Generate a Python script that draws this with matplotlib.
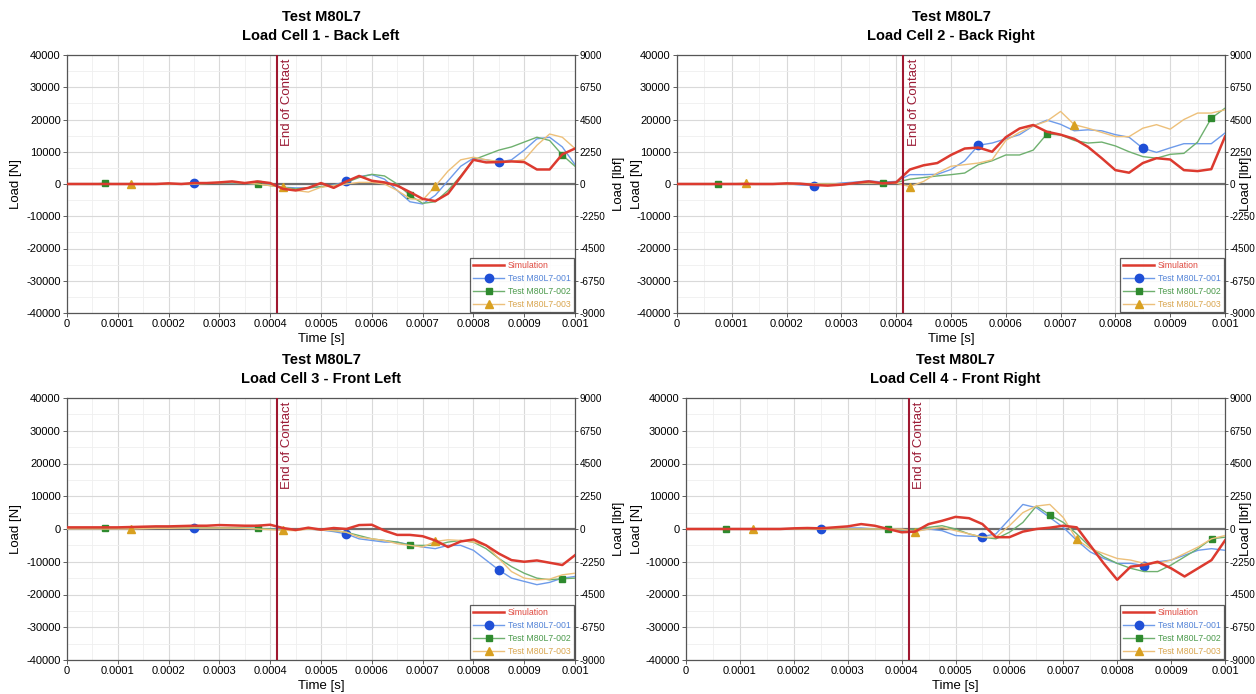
import numpy as np
import matplotlib
matplotlib.use("Agg")
import matplotlib.pyplot as plt
from matplotlib.ticker import MultipleLocator, FixedLocator

plt.rcParams['font.family'] = ['Liberation Sans', 'DejaVu Sans']
plt.rcParams['axes.unicode_minus'] = False

# ---- data (time in s, loads in kN) ----
time_s = np.linspace(0, 0.001, 41)
end_of_contact = 0.000413

titles = ["Load Cell 1 - Back Left", "Load Cell 2 - Back Right",
          "Load Cell 3 - Front Left", "Load Cell 4 - Front Right"]
series_names = ["Simulation", "Test M80L7-001", "Test M80L7-002", "Test M80L7-003"]

sim1 = [0,0,0,0,0,0,0,0,0.2,0,0.3,0.3,0.5,0.8,0.3,0.8,0.3,-1.5,-2,-1.2,0.3,-1.2,0.8,2.5,1,0.5,-0.5,-2.5,-4.6,-5.3,-3,2.2,7.5,6.7,6.8,7,6.8,4.5,4.5,9.2,11]
t001_1 = [0,0,0,0,0,0,0,0,0,0,0.2,0.2,0.3,0.3,0.2,0,-0.3,-1,-1.2,-1.2,-0.9,-0.3,0.8,2.3,2.9,1.5,-2,-5.5,-6.2,-3.5,1,5.5,8,7.5,6.8,7.5,10.5,14,14.5,11.5,6]
t002_1 = [0,0,0,0.2,0,0,0,0,0,0,0,0.1,0.3,0.4,0.2,0,-0.5,-1,-1.5,-1.2,-0.8,-0.5,0.5,2,3,2.5,0,-3.5,-6,-5.5,-2,2.5,7.5,9,10.5,11.5,13,14.5,13.5,9,5.5]
t003_1 = [0,0,0,0,0,0,0,0,0,0,0,0.2,0.4,0.5,0.3,0,-0.5,-1,-2,-2.5,-1,-0.5,0,0.5,0.5,0,-2,-4.5,-5,-0.7,4,7.5,8.3,7.5,7,7,7.5,12,15.5,14.5,11]

sim2 = [0,0,0,0,0,0,0,0,0.2,0.1,-0.3,-0.5,-0.2,0.3,0.8,0.2,0.5,4.5,5.8,6.5,9,11,11.3,10,14.5,17.2,18.3,16.2,15.3,14,11.5,8,4.3,3.5,6.5,8,7.6,4.3,4,4.6,14.7]
t001_2 = [0,0,0,0,0,0,0,0,0.1,-0.3,-0.5,-0.2,0.3,0.6,1.0,0.6,0.8,2.9,2.9,3.0,4.5,7.2,12,12.7,14,15.3,18,19.8,18.5,16.5,16.8,16.5,15.3,14.5,11.1,9.8,11.2,12.5,12.5,12.5,15.8]
t002_2 = [0,0,0,0,0,0,0,0,0,0,0,0,-0.3,0.2,0.5,0.2,0.5,1.5,2.0,2.5,2.9,3.4,6,7.2,9,9,10.5,15.5,15.2,13.5,12.7,13,11.8,10,8.5,8,9.2,9.5,13,20.4,23.5]
t003_2 = [0,0,0,0,0,0.3,0,0,0,0,0,0,0,0.2,0.3,0.1,0.3,-0.8,0.8,3.4,5.5,6,6.5,7.5,13.5,16,18,19.5,22.5,18.4,17.3,16,14.7,14.7,17.3,18.4,17,20,22,22,23]

sim3 = [0.5,0.5,0.5,0.5,0.5,0.6,0.7,0.8,0.8,0.9,1.0,1.0,1.2,1.1,1.0,1.0,1.3,0.3,-0.3,0.4,-0.2,0.3,0,1.2,1.3,-0.5,-1.8,-1.8,-2.2,-3.5,-5.5,-3.8,-3.2,-5,-7.5,-9.5,-10,-9.6,-10.3,-11,-8]
t001_3 = [0,0,0,0,0,0.1,0.2,0.2,0.3,0.3,0.3,0.3,0.3,0.3,0.2,0.2,0,0,-0.2,0,-0.3,-0.8,-1.5,-3,-3.5,-4,-4,-4.8,-5.5,-6,-5,-5,-6.5,-9.5,-12.5,-15,-16,-17,-16.3,-15,-14.5]
t002_3 = [0.2,0.2,0.2,0.2,0.2,0.2,0.3,0.3,0.3,0.3,0.4,0.4,0.4,0.4,0.3,0.2,0,-0.3,-0.2,0,-0.2,-0.5,-1,-2,-3,-3.5,-4,-5,-5,-5,-4,-3.5,-4,-6,-9,-11.5,-13.5,-15,-15.5,-15.2,-15]
t003_3 = [0,0,0,0,0,0,0.1,0.2,0.2,0.3,0.3,0.3,0.3,0.3,0.2,0,-0.2,-0.4,-0.5,0,-0.3,-0.5,-1,-2.5,-3,-3.5,-4.5,-5,-5.5,-3.8,-3.3,-3.5,-4,-5,-9,-13,-15,-15.5,-15.3,-14,-13.5]

sim4 = [0,0,0,0,0,0,0,0,0.2,0.3,0.2,0.5,0.8,1.5,1.0,0,-1,-0.8,1.5,2.5,3.7,3.3,1.5,-2.5,-2.5,-0.8,0,0.4,1.0,0.5,-5,-10.5,-15.5,-11.5,-11,-10,-12,-14.5,-12,-9.5,-3.5]
t001_4 = [0,0,0,0,0,0,0,0,0,0,0,0,0.3,0.3,0,0,-0.3,-0.5,0,-0.5,-2,-2.2,-2.3,-1.5,3,7.5,6.5,3.5,0.5,-3.5,-7,-9,-10.5,-10.5,-11.2,-10,-9.5,-8,-6.5,-6,-6.5]
t002_4 = [0,0,0,0,0,0,0,0,0,0,0,0,0,0,0,0,-0.3,0,0.5,1,0,-1.5,-2.5,-3,-1,2,7,4.3,2,-1.5,-5.5,-8.5,-10.5,-12,-13,-13,-11,-8.5,-6,-3,-2.5]
t003_4 = [0,0,0,0,0,0,0,0,0,0,0,0,0,0,0,0,0,-0.8,0,0.5,-0.5,-1.5,-2.5,-2.5,1,5,7,7.5,3.5,-3.2,-6,-7.5,-9,-9.5,-10.5,-10.5,-9.5,-7.5,-5.5,-3,-2]

panels = [(sim1, t001_1, t002_1, t003_1), (sim2, t001_2, t002_2, t003_2),
          (sim3, t001_3, t002_3, t003_3), (sim4, t001_4, t002_4, t003_4)]

x_ticks = [0, 0.0001, 0.0002, 0.0003, 0.0004, 0.0005, 0.0006, 0.0007, 0.0008, 0.0009, 0.001]
x_ticklabels = ["0", "0.0001", "0.0002", "0.0003", "0.0004", "0.0005", "0.0006", "0.0007", "0.0008", "0.0009", "0.001"]
y_ticks = [-40000, -30000, -20000, -10000, 0, 10000, 20000, 30000, 40000]
y2_ticks = [-9000, -6750, -4500, -2250, 0, 2250, 4500, 6750, 9000]

# ---- styles ----
line_colors = ['#DC3A2F', '#6E9BEA', '#6FB06F', '#EDC07A']
marker_colors = [None, '#1F4FD6', '#2E8A2E', '#D8A020']
markers = [None, 'o', 's', '^']
mark_start = [None, 10, 3, 5]
text_colors = ['#E04A40', '#5585D8', '#4C9A4C', '#D9A650']

W, H = 1256, 694
fig = plt.figure(figsize=(W / 100, H / 100), dpi=100)

# axes boxes in pixels: left, right, top, bottom
boxes = [(67, 575, 55, 313), (677, 1225, 55, 313), (67, 575, 398, 660), (686, 1225, 398, 660)]
left_label_x = [16, 637, 16, 637]
right_label_x = [619, 1246, 619, 1246]

for i, (l, r, t, b) in enumerate(boxes):
    ax = fig.add_axes([l / W, (H - b) / H, (r - l) / W, (b - t) / H])
    data = panels[i]
    for k in [1, 2, 3, 0]:
        vals = np.array(data[k]) * 1000.0
        if k == 0:
            ax.plot(time_s, vals, color=line_colors[0], lw=1.8, zorder=4, label=series_names[0])
        else:
            ax.plot(time_s, vals, color=line_colors[k], lw=1.0, zorder=3,
                    marker=markers[k], markevery=(mark_start[k], 12),
                    markersize=6 if k != 2 else 5, markerfacecolor=marker_colors[k],
                    markeredgecolor=marker_colors[k], label=series_names[k])
    ax.axhline(0, color='#6E6E6E', lw=1.6, zorder=2)
    ax.axvline(end_of_contact, color='#A01830', lw=1.5, zorder=5)
    ax.text(end_of_contact + 0.000008, 39000, "End of Contact", rotation=90, va='top', ha='left',
            color='#9B1B35', fontsize=9.5, zorder=6)

    ax.set_xlim(0, 0.001)
    ax.set_ylim(-40000, 40000)
    ax.xaxis.set_major_locator(FixedLocator(x_ticks))
    ax.set_xticklabels(x_ticklabels)
    ax.xaxis.set_minor_locator(MultipleLocator(0.00005))
    ax.yaxis.set_major_locator(FixedLocator(y_ticks))
    ax.yaxis.set_minor_locator(MultipleLocator(5000))
    ax.grid(which='major', color='#D9D9D9', lw=0.8, zorder=0)
    ax.grid(which='minor', color='#EFEFEF', lw=0.6, zorder=0)
    ax.set_axisbelow(True)
    ax.tick_params(which='major', labelsize=8, length=3, width=0.6, pad=1.5, colors='#444444', labelcolor='black')
    ax.tick_params(which='minor', length=0)
    for s in ax.spines.values():
        s.set_color('#555555')
        s.set_linewidth(0.9)

    ax.set_xlabel("Time [s]", fontsize=9.5, labelpad=3)
    ax.set_ylabel("Load [N]", fontsize=9.5)
    ax.yaxis.set_label_coords((left_label_x[i] - l) / (r - l), 0.5)
    ax.yaxis.label.set_va('center')
    ax.yaxis.label.set_ha('center')

    ax2 = ax.twinx()
    ax2.set_ylim(-9000, 9000)
    ax2.yaxis.set_major_locator(FixedLocator(y2_ticks))
    ax2.tick_params(labelsize=7.2, length=2.5, width=0.6, pad=1, colors='#444444', labelcolor='black')
    ax2.set_ylabel("Load [lbf]", fontsize=9.5, rotation=90)
    ax2.yaxis.set_label_coords((right_label_x[i] - l) / (r - l), 0.5)
    ax2.yaxis.label.set_va('center')
    ax2.yaxis.label.set_ha('center')
    for s in ax2.spines.values():
        s.set_visible(False)

    ax.set_title("Test M80L7\n" + titles[i], fontsize=10.5, fontweight='bold', pad=11, linespacing=1.45)

    h, lab = ax.get_legend_handles_labels()
    order = [lab.index(n) for n in series_names]
    leg = ax.legend([h[j] for j in order], [lab[j] for j in order], loc='lower right',
                    fontsize=6.3, frameon=True, fancybox=False, edgecolor='#333333',
                    borderaxespad=0.15, handlelength=3.6, labelspacing=0.45,
                    borderpad=0.35, handletextpad=0.4, numpoints=1)
    leg.get_frame().set_linewidth(0.9)
    leg.set_zorder(10)
    for txt, c in zip(leg.get_texts(), text_colors):
        txt.set_color(c)

fig.savefig("out.png", dpi=100)
